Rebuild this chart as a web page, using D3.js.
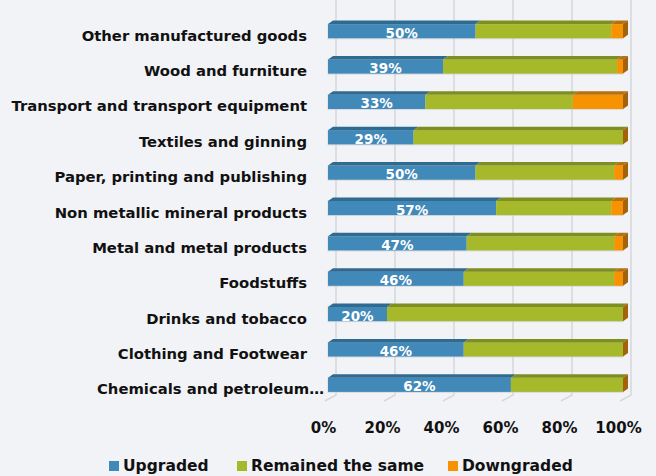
<!DOCTYPE html>
<html>
<head>
<meta charset="utf-8">
<script src="https://cdn.jsdelivr.net/npm/d3@7"></script>
<style>
  html, body { margin: 0; padding: 0; background: #f1f3f7; }
  svg { display: block; font-family: "DejaVu Sans", sans-serif; font-weight: bold; }
</style>
</head>
<body>
<svg id="chart" width="656" height="476"></svg>
<script>
// Sectors, top to bottom
const categories = [
  "Other manufactured goods",
  "Wood and furniture",
  "Transport and transport equipment",
  "Textiles and ginning",
  "Paper, printing and publishing",
  "Non metallic mineral products",
  "Metal and metal products",
  "Foodstuffs",
  "Drinks and tobacco",
  "Clothing and Footwear",
  "Chemicals and petroleum\u2026"
];
// Share of firms (%) per sector
const upgraded   = [50, 39, 33, 29, 50, 57, 47, 46, 20, 46, 62];
const remained   = [46, 59, 50, 71, 47, 39, 50, 51, 80, 54, 38];
const downgraded = [4, 2, 17, 0, 3, 4, 3, 3, 0, 0, 0];
const seriesNames = ["Upgraded", "Remained the same", "Downgraded"];
const xTicks = [0, 20, 40, 60, 80, 100];

const frontColors = ["#4189b8", "#a6b92b", "#f79300"];
const topColors   = ["#2f6b90", "#7f8e20", "#b8700a"];
const sideColor = "#a3620c";

const svg = d3.select("#chart");

const x = d3.scaleLinear().domain([0, 100]).range([328, 623]);
const y = d3.scaleBand().domain(categories).range([13.5, 402.5])
  .paddingInner(0.6).paddingOuter(0.3);
const bh = y.bandwidth();

// depth of the bars and of the back wall
const bdx = 5, bdy = -3.5;
const wdx = 8, wdy = -6;
const floorY = 401;

// gridlines on back wall + floor diagonals
const grid = svg.append("g").attr("stroke", "#d6d8dc").attr("stroke-width", 1.5).attr("fill", "none");
xTicks.forEach(t => {
  const xb = x(t) + wdx;
  grid.append("path")
    .attr("d", `M${x(t) - 3},${floorY} L${xb},${floorY + wdy} L${xb},0`);
});

// stacked data
const rows = categories.map((c, i) => {
  const vals = [upgraded[i], remained[i], downgraded[i]];
  let acc = 0;
  const segs = vals.map((v, k) => {
    const s = { k, x0: acc, x1: acc + v, v };
    acc += v;
    return s;
  });
  return { cat: c, segs, total: acc, up: upgraded[i] };
});

const bars = svg.append("g");
rows.forEach(r => {
  const g = bars.append("g");
  const yt = y(r.cat);
  // soft outline
  g.append("rect")
    .attr("x", x(0) - 0.5).attr("y", yt - 0.5)
    .attr("width", x(r.total) - x(0) + 1).attr("height", bh + 1.5)
    .attr("fill", "#c9cccf").attr("opacity", 0.6);
  r.segs.forEach(s => {
    if (s.v <= 0) return;
    const x0 = x(s.x0), x1 = x(s.x1);
    // front face
    g.append("rect")
      .attr("x", x0).attr("y", yt)
      .attr("width", x1 - x0).attr("height", bh)
      .attr("fill", frontColors[s.k]);
    // top face
    g.append("path")
      .attr("d", `M${x0},${yt} L${x0 + bdx},${yt + bdy} L${x1 + bdx},${yt + bdy} L${x1},${yt} Z`)
      .attr("fill", topColors[s.k]);
  });
  // right side face
  const xe = x(r.total);
  g.append("path")
    .attr("d", `M${xe},${yt} L${xe + bdx},${yt + bdy} L${xe + bdx},${yt + bh + bdy} L${xe},${yt + bh} Z`)
    .attr("fill", sideColor);
  // value label on the upgraded segment
  g.append("text")
    .attr("x", (x(0) + x(r.up)) / 2)
    .attr("y", yt + bh / 2 + 1.5)
    .attr("text-anchor", "middle")
    .attr("dominant-baseline", "central")
    .attr("fill", "#ffffff")
    .attr("font-size", 13.5)
    .text(r.up + "%");
});

// category labels
svg.append("g").selectAll("text").data(categories).join("text")
  .attr("x", c => c === categories[categories.length - 1] ? 324 : 307)
  .attr("y", c => y(c) + bh / 2 + 4)
  .attr("text-anchor", "end")
  .attr("dominant-baseline", "central")
  .attr("font-size", 14.8)
  .attr("fill", "#111")
  .text(c => c);

// x axis tick labels
svg.append("g").selectAll("text").data(xTicks).join("text")
  .attr("x", t => x(t) - 4.5)
  .attr("y", 428)
  .attr("text-anchor", "middle")
  .attr("dominant-baseline", "central")
  .attr("font-size", 15)
  .attr("fill", "#111")
  .text(t => t + "%");

// legend
const legX = [109, 237, 448];
const leg = svg.append("g");
seriesNames.forEach((n, k) => {
  leg.append("rect").attr("x", legX[k]).attr("y", 461).attr("width", 10).attr("height", 10).attr("fill", frontColors[k]);
  leg.append("text").attr("x", legX[k] + 14).attr("y", 470.5)
    .attr("font-size", 15.5).attr("fill", "#111").text(n);
});
</script>
</body>
</html>
